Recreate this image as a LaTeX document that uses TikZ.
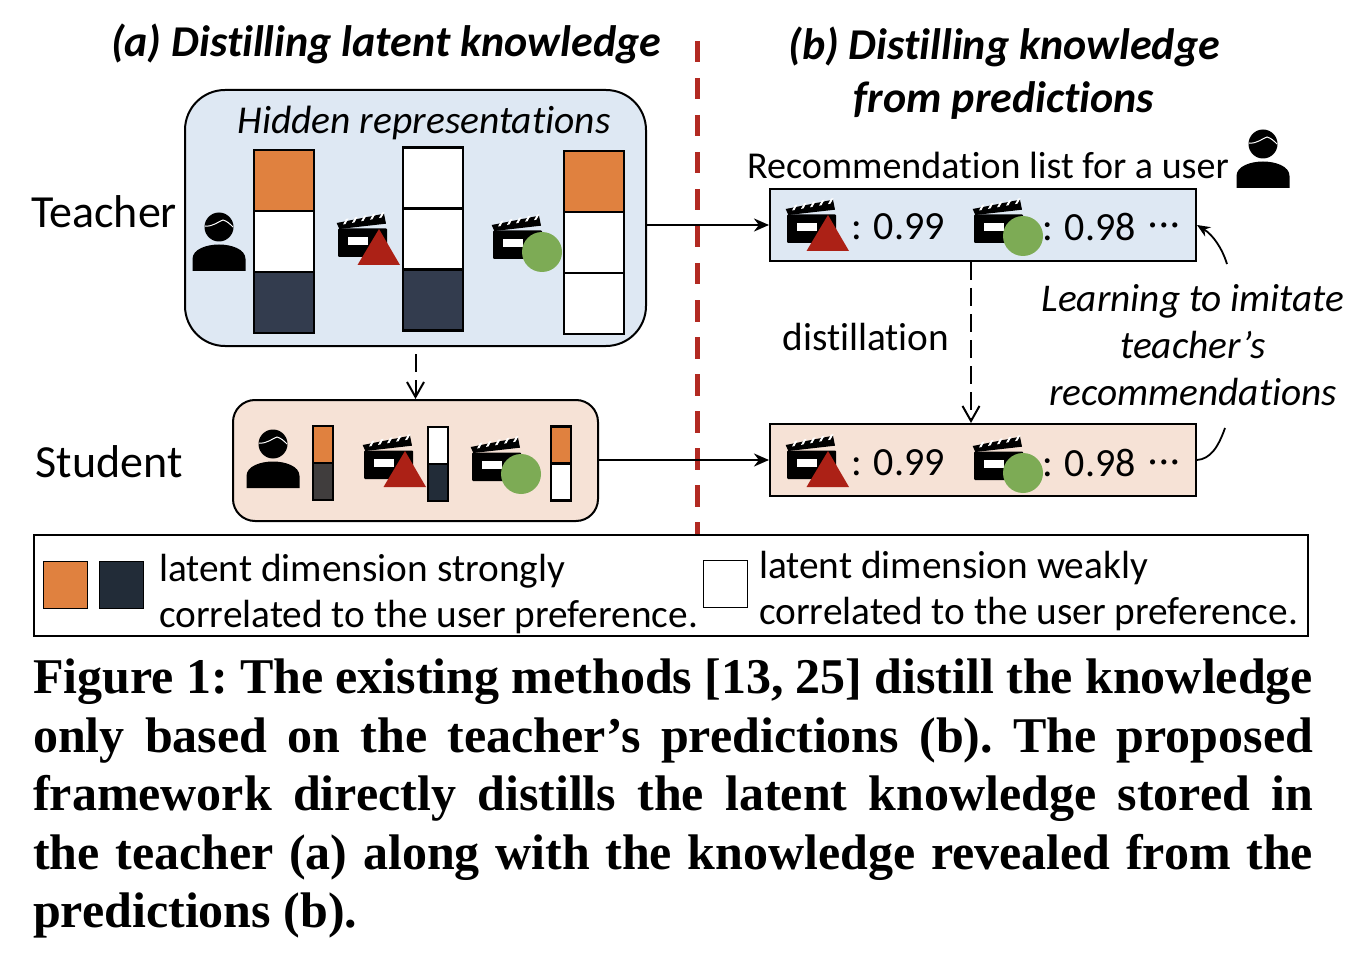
\documentclass[tikz,border=0pt]{standalone}
\usepackage{fontspec}
\setmainfont{Carlito}[Ligatures={TeX,NoCommon}]
\newfontfamily\capfont{Liberation Serif}
\usepackage{xcolor}
\usepackage{tikz}
\usetikzlibrary{positioning, arrows.meta, calc}
\definecolor{ink}{RGB}{0,0,0}
\definecolor{softblue}{RGB}{222,232,243}
\definecolor{softpeach}{RGB}{246,226,214}
\definecolor{orangecell}{RGB}{224,129,63}
\definecolor{darkcell}{RGB}{51,60,78}
\definecolor{navycell}{RGB}{34,44,56}
\definecolor{greycell}{RGB}{64,61,61}
\definecolor{redmark}{RGB}{172,33,22}
\definecolor{greenmark}{RGB}{125,171,85}
\definecolor{redline}{RGB}{178,42,34}
\tikzset{
  panel/.style    ={rectangle, draw=ink, line width=2pt, inner sep=0pt},
  cell/.style     ={rectangle, draw=ink, line width=2.2pt, inner sep=0pt, minimum width=60pt, minimum height=61pt},
  minicell/.style ={rectangle, draw=ink, line width=2.2pt, inner sep=0pt, minimum width=20pt, minimum height=37pt},
  swatch/.style   ={rectangle, draw=ink, line width=1pt, inner sep=0pt, minimum width=44pt, minimum height=47pt},
  arr/.style      ={-{Stealth[length=15pt, width=13pt]}, line width=2.8pt, color=ink},
  dasharr/.style  ={-{Straight Barb[length=15pt, width=17pt]}, line width=2pt, dash pattern=on 18pt off 8pt, color=ink},
  notearr/.style  ={line width=1.8pt, color=ink},
  sidelabel/.style={font=\fontsize{46}{50}\selectfont, inner sep=0pt},
  titlelabel/.style={font=\fontsize{44}{53}\selectfont\bfseries\itshape, inner sep=0pt, align=center},
  bodylabel/.style={font=\fontsize{39.3}{46.5}\selectfont, inner sep=0pt, align=left},
  notelabel/.style={font=\fontsize{39.3}{47}\selectfont\itshape, inner sep=0pt, align=center},
  scorelabel/.style={font=\fontsize{40}{48}\selectfont, inner sep=0pt},
  dotslabel/.style={font=\fontsize{36}{48}\selectfont, inner sep=0pt, anchor=base west},
  usericon/.pic={
    \fill[ink] (-26.5,0) -- (-26.5,-12) .. controls (-26.5,-22) and (-12,-26.5) .. (0,-26.5)
      .. controls (12,-26.5) and (26.5,-22) .. (26.5,-12) -- (26.5,0) -- cycle;
    \fill[ink] (0,-44) circle (14.5);
    \draw[white, line width=1pt] (-14,-45) .. controls (-6,-44) and (0,-50) .. (4,-51) .. controls (8,-50) and (11,-47) .. (14,-44);
  },
  clapper/.pic={
    \fill[ink, rounded corners=1pt] (0,0) rectangle (49,-28.5);
    \fill[white] (10,-12) rectangle (30,-20);
    \fill[ink] (-1.3,-34) -- (46,-43.3) -- (48,-33.3) -- (1.3,-28) -- cycle;
    \foreach \s in {0,1,2,3,4}
      \fill[white] ({5+9*\s},{-32.5-1.6*\s}) -- ({8+9*\s},{-38-1.6*\s}) -- ({10.5+9*\s},{-38.5-1.6*\s}) -- ({7.5+9*\s},{-33-1.6*\s}) -- cycle;
  },
  movietri/.pic={
    \pic {clapper};
    \fill[redmark] (41,-28) -- (62,8) -- (19.5,8) -- cycle;
  },
  moviecirc/.pic={
    \pic {clapper};
    \fill[greenmark] (49,-7) circle (20);
  },
}

\begin{document}
\begin{tikzpicture}[x=1pt, y=-1pt]
\useasboundingbox (0,0) rectangle (1358,960);

% teacher and student panels
\node[panel, fill=softblue, rounded corners=40pt, minimum width=461pt, minimum height=256pt] (teacher) at (415.5,218) {};
\node[panel, fill=softpeach, rounded corners=22pt, minimum width=365pt, minimum height=121pt] (student) at (415.5,460.5) {};
\node[panel, fill=softblue, minimum width=426pt, minimum height=72pt] (recA) at (983,225) {};
\node[panel, fill=softpeach, minimum width=426pt, minimum height=72pt] (recB) at (983,460) {};
\node[panel, minimum width=1274pt, minimum height=101pt] (legend) at (671,585.5) {};
\coordinate (splittop) at (697,41);
\draw[redline, line width=5pt, dash pattern=on 21.5pt off 15.5pt] (splittop) -- (splittop |- legend.north);

\node[titlelabel] (titleA) at (386,44) {(a) Distilling latent knowledge};
\node[titlelabel] (titleB) at (1004,73) {(b) Distilling knowledge\\from predictions};
\node[font=\fontsize{39.5}{46}\selectfont\itshape, inner sep=0pt] (hidden) at (424,123) {Hidden representations};
\node[sidelabel] (teacherlabel) at (104,212) {Teacher};
\node[sidelabel] (studentlabel) at (109,462) {Student};

% hidden representations, teacher
\node[cell, fill=orangecell] (ta1) at (284,180.5) {};
\node[cell, fill=white] (ta2) at (284,241.5) {};
\node[cell, fill=darkcell] (ta3) at (284,302.5) {};
\node[cell, fill=white] (tb1) at (433,178) {};
\node[cell, fill=white] (tb2) at (433,239) {};
\node[cell, fill=darkcell] (tb3) at (433,300) {};
\node[cell, fill=orangecell] (tc1) at (594,181.5) {};
\node[cell, fill=white] (tc2) at (594,242.5) {};
\node[cell, fill=white] (tc3) at (594,303.5) {};

% hidden representations, student
\node[minicell, fill=orangecell] (sa1) at (323,444.5) {};
\node[minicell, fill=greycell] (sa2) at (323,481.5) {};
\node[minicell, fill=white] (sb1) at (438,445.5) {};
\node[minicell, fill=navycell] (sb2) at (438,482.5) {};
\node[minicell, fill=orangecell] (sc1) at (561,445) {};
\node[minicell, fill=white] (sc2) at (561,482) {};

% icons
\pic at (219,271) {usericon};
\pic at (338,257) {movietri};
\pic at (493,259) {moviecirc};
\pic at (273,488) {usericon};
\pic at (364,479) {movietri};
\pic at (472,481) {moviecirc};
\pic at (1263,188) {usericon};
\pic at (787,243) {movietri};
\pic at (974,243) {moviecirc};
\pic at (787,479) {movietri};
\pic at (974,480) {moviecirc};

% recommendation lists
\node[font=\fontsize{38}{46}\selectfont, inner sep=0pt] (listlabel) at (988,165) {Recommendation list for a user};
\node[scorelabel, anchor=west] (scoreA1) at (851,227) {: 0.99};
\node[scorelabel, anchor=west] (scoreA2) at (1042,227) {: 0.98};
\node[dotslabel] (dotsA) at (1148,236) {·\kern2pt·\kern2pt·};
\node[scorelabel, anchor=west] (scoreB1) at (851,463) {: 0.99};
\node[scorelabel, anchor=west] (scoreB2) at (1042,463) {: 0.98};
\node[dotslabel] (dotsB) at (1148,472) {·\kern2pt·\kern2pt·};
\node[bodylabel] (distlabel) at (866,337) {distillation};
\node[notelabel] (learnlabel) at (1193,345) {Learning to imitate\\teacher's\\recommendations};

\draw[arr] (teacher.east |- recA.west) -- (recA.west);
\draw[arr] (student.east |- recB.west) -- (recB.west);
\draw[dasharr] (teacher.south -| student.north) ++(0,7) -- (student.north);
\draw[dasharr] (recA.south -| 971,0) -- (recB.north -| 971,0);
\draw[notearr, -{Stealth[length=13pt, width=11pt]}] (1227,264) .. controls (1222,248) and (1213,235) .. (recA.east);
\draw[notearr] (1225,428) .. controls (1218,448) and (1210,459) .. (recB.east);

% legend
\node[swatch, fill=orangecell] (keyA) at (65,584.5) {};
\node[swatch, fill=navycell] (keyB) at (121,584.5) {};
\node[swatch, fill=white] (keyC) at (725,584) {};
\node[bodylabel, anchor=west] (keytextA) at (159,594) {latent dimension strongly\\correlated to the user preference.};
\node[bodylabel, anchor=west] (keytextB) at (759,591) {latent dimension weakly\\correlated to the user preference.};

% caption
\node[font=\fontsize{50}{58.4}\selectfont\capfont\bfseries\frenchspacing, inner sep=0pt, text width=1280pt, align=justify, anchor=north west] (caption) at (33,659)
  {Figure 1: The existing methods [13, 25] distill the knowledge\linebreak
   only based on the teacher’s predictions (b). The proposed\linebreak
   framework directly distills the latent knowledge stored in\linebreak
   the teacher (a) along with the knowledge revealed from the\linebreak
   predictions (b).};
\end{tikzpicture}
\end{document}
